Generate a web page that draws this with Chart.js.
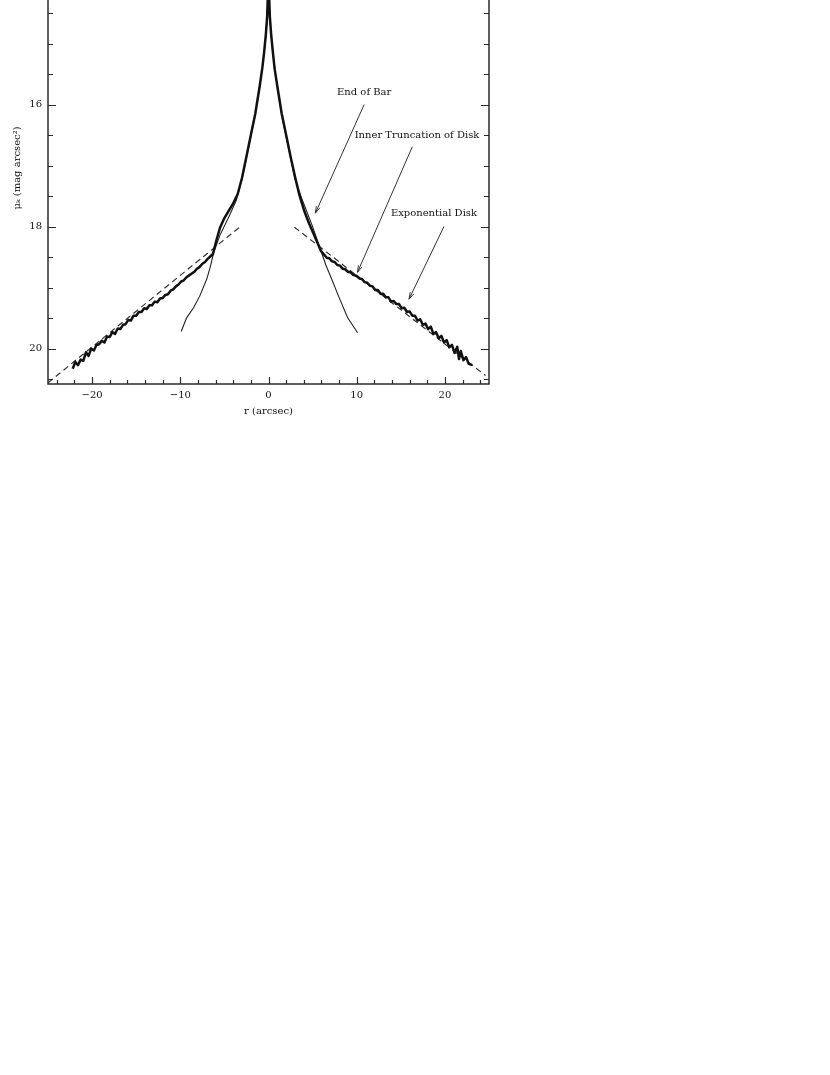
<!DOCTYPE html>
<html><head><meta charset="utf-8">
<script src="https://cdn.jsdelivr.net/npm/chart.js@4.4.0/dist/chart.umd.min.js"></script>
<style>
html,body{margin:0;padding:0;background:#fff;width:830px;height:1075px;overflow:hidden;}
#wrap{position:absolute;left:0;top:-60px;width:500px;height:490px;}
</style></head><body>
<div id="wrap"><canvas id="c"></canvas></div>
<script>
// Observed K-band surface-brightness profile [r (arcsec), mu_K (mag arcsec^-2)]
const profilePoints = [
 [-22.2,20.33],[-21.9,20.22],[-21.6,20.27],[-21.3,20.18],[-21.0,20.20],[-20.7,20.06],[-20.4,20.12],[-20.1,20.00],
 [-19.8,20.03],[-19.5,19.94],[-19.2,19.93],[-18.9,19.87],[-18.6,19.90],[-18.3,19.80],[-18.0,19.81],[-17.7,19.73],
 [-17.4,19.76],[-17.1,19.67],[-16.8,19.68],[-16.5,19.61],[-16.2,19.60],[-15.9,19.53],[-15.6,19.54],[-15.3,19.46],
 [-15.0,19.46],[-14.7,19.40],[-14.4,19.40],[-14.1,19.34],[-13.8,19.35],[-13.5,19.29],[-13.2,19.29],[-12.9,19.23],
 [-12.6,19.24],[-12.3,19.18],[-12.0,19.17],[-11.7,19.12],[-11.4,19.11],[-11.1,19.05],[-10.8,19.03],[-10.5,18.98],
 [-10.2,18.95],[-9.9,18.90],[-9.6,18.88],[-9.3,18.83],[-9.0,18.80],[-8.7,18.77],[-8.4,18.74],[-8.1,18.69],
 [-7.8,18.66],[-7.5,18.61],[-7.2,18.58],[-6.9,18.53],[-6.6,18.49],[-6.3,18.45],
 [-5.9,18.22],[-5.5,18.02],[-5.0,17.86],[-4.5,17.74],[-4.0,17.62],[-3.5,17.47],[-3.0,17.20],[-2.5,16.85],
 [-2.0,16.50],[-1.5,16.15],[-1.0,15.70],[-0.7,15.40],[-0.5,15.15],[-0.3,14.85],[-0.15,14.55],[0,13.90],
 [0.15,14.55],[0.3,14.85],[0.5,15.15],[0.7,15.42],[1.0,15.70],[1.5,16.15],[2.0,16.50],[2.5,16.85],
 [3.0,17.18],[3.5,17.48],[4.07,17.75],[4.6,17.95],[5.0,18.08],[5.5,18.25],[5.95,18.40],
 [6.3,18.46],[6.6,18.51],[6.9,18.52],[7.2,18.57],[7.5,18.58],[7.8,18.63],[8.1,18.64],[8.4,18.69],
 [8.7,18.70],[9.0,18.74],[9.3,18.75],[9.6,18.79],[10.0,18.81],[10.3,18.85],[10.6,18.86],[10.9,18.91],
 [11.2,18.92],[11.5,18.97],[11.8,18.98],[12.1,19.04],[12.4,19.04],[12.7,19.10],[13.0,19.10],[13.3,19.16],
 [13.6,19.16],[13.9,19.23],[14.2,19.22],[14.5,19.27],[14.8,19.27],[15.1,19.34],[15.4,19.33],[15.7,19.40],
 [16.0,19.39],[16.3,19.46],[16.6,19.46],[16.9,19.54],[17.2,19.52],[17.5,19.61],[17.8,19.59],[18.1,19.68],
 [18.4,19.64],[18.7,19.76],[19.0,19.73],[19.3,19.83],[19.6,19.79],[19.9,19.90],[20.2,19.86],[20.5,19.98],
 [20.8,19.94],[21.1,20.07],[21.4,19.97],[21.6,20.17],[21.8,20.04],[22.1,20.19],[22.4,20.14],[22.7,20.25],[23.1,20.27]
];
// Bulge (+bar) model profile
const bulgePoints = [
 [-9.9,19.72],[-9.3,19.50],[-8.5,19.33],[-7.8,19.14],[-7.0,18.86],[-6.6,18.66],[-6.2,18.42],[-5.5,18.14],
 [-4.4,17.81],[-3.65,17.57],[-3.0,17.22],[-2.5,16.87],[-2.0,16.52],[-1.5,16.17],[-1.0,15.72],[-0.5,15.17],
 [-0.3,14.87],[-0.15,14.57],[0,13.90],[0.15,14.57],[0.3,14.87],[0.5,15.17],[1.0,15.72],[1.5,16.17],
 [2.0,16.52],[2.5,16.87],[3.0,17.22],[3.9,17.59],[5.0,18.00],[5.95,18.40],[6.5,18.63],[7.1,18.84],
 [8.0,19.16],[8.96,19.49],[10.1,19.74]
];
// Exponential disk fits (dashed)
const diskLeftPoints  = [[-25,20.56],[-3.1,17.99]];
const diskRightPoints = [[2.94,18.01],[24.6,20.44]];

const xTickValues = [-20,-10,0,10,20];
const yTickValues = [14,16,18,20];

const annotationLabels = ['End of Bar','Inner Truncation of Disk','Exponential Disk'];
const annotationTextR  = [10.85, 16.84, 18.76];
const annotationTextMu = [15.80, 16.50, 17.78];
const arrowFromR  = [10.85, 16.31, 19.89];
const arrowFromMu = [16.00, 16.69, 18.00];
const arrowToR    = [5.31, 10.09, 15.93];
const arrowToMu   = [17.78, 18.75, 19.19];

const FONT = 'DejaVu Serif';
const toXY = pts => pts.map(p => ({x:p[0], y:p[1]}));

const framePlugin = {
  id:'frame',
  afterDatasetsDraw(chart){
    const {ctx, chartArea:a, scales:{x,y}} = chart;
    ctx.save();
    ctx.strokeStyle = '#2b2b2b';
    ctx.lineWidth = 1.5;
    ctx.beginPath();
    ctx.moveTo(a.left,a.top); ctx.lineTo(a.left,a.bottom); ctx.lineTo(a.right,a.bottom);
    ctx.lineTo(a.right,a.top); ctx.closePath(); ctx.stroke();
    ctx.lineWidth = 1.2;
    ctx.beginPath();
    for(let v=-24; v<=24; v+=2){
      const px = Math.round(x.getPixelForValue(v))+0.5;
      const L = (v%10===0)?7:4;
      ctx.moveTo(px,a.bottom); ctx.lineTo(px,a.bottom-L);
      ctx.moveTo(px,a.top); ctx.lineTo(px,a.top+L);
    }
    for(let v=14; v<=20.5; v+=0.5){
      const py = Math.round(y.getPixelForValue(v))+0.5;
      const L = (v%2===0)?8:5;
      ctx.moveTo(a.left,py); ctx.lineTo(a.left+L,py);
      ctx.moveTo(a.right,py); ctx.lineTo(a.right-L,py);
    }
    ctx.stroke();
    // annotations
    ctx.fillStyle = '#111';
    ctx.strokeStyle = '#333';
    ctx.lineWidth = 1;
    ctx.font = '10px "'+FONT+'"';
    ctx.textAlign = 'center';
    ctx.textBaseline = 'middle';
    for(let i=0;i<annotationLabels.length;i++){
      ctx.fillText(annotationLabels[i], x.getPixelForValue(annotationTextR[i]), y.getPixelForValue(annotationTextMu[i]));
      const x0 = x.getPixelForValue(arrowFromR[i]), y0 = y.getPixelForValue(arrowFromMu[i]);
      const x1 = x.getPixelForValue(arrowToR[i]),   y1 = y.getPixelForValue(arrowToMu[i]);
      ctx.beginPath(); ctx.moveTo(x0,y0); ctx.lineTo(x1,y1); ctx.stroke();
      const ang = Math.atan2(y1-y0, x1-x0), h = 7, w = 0.28;
      ctx.beginPath();
      ctx.moveTo(x1 - h*Math.cos(ang-w), y1 - h*Math.sin(ang-w));
      ctx.lineTo(x1,y1);
      ctx.lineTo(x1 - h*Math.cos(ang+w), y1 - h*Math.sin(ang+w));
      ctx.stroke();
    }
    ctx.restore();
  }
};

new Chart(document.getElementById('c'), {
  type:'line',
  data:{ datasets:[
    {label:'profile', data:toXY(profilePoints), borderColor:'#111', borderWidth:2.5, borderJoinStyle:'round', pointRadius:0, tension:0},
    {label:'bulge', data:toXY(bulgePoints), borderColor:'#222', borderWidth:1.1, pointRadius:0, tension:0},
    {label:'diskL', data:toXY(diskLeftPoints), borderColor:'#333', borderWidth:1.2, borderDash:[6,4], pointRadius:0},
    {label:'diskR', data:toXY(diskRightPoints), borderColor:'#333', borderWidth:1.2, borderDash:[6,4], pointRadius:0}
  ]},
  options:{
    responsive:true, maintainAspectRatio:false, animation:false,
    layout:{autoPadding:false, padding:{left:0,right:11,top:10,bottom:0}},
    plugins:{legend:{display:false}, tooltip:{enabled:false}},
    scales:{
      x:{type:'linear', min:-25, max:25,
        grid:{display:false, drawTicks:false, tickLength:0}, border:{display:false},
        afterBuildTicks:s=>{ s.ticks = xTickValues.map(v=>({value:v})); },
        afterFit:s=>{ s.height = 46; },
        ticks:{padding:5, maxRotation:0, color:'#111', font:{family:FONT,size:10},
          callback:v=> (v<0?'\u2212'+Math.abs(v):String(v))},
        title:{display:true, text:'r (arcsec)', color:'#111', font:{family:FONT,size:10}, padding:{top:0,bottom:13}}
      },
      y:{type:'linear', reverse:true, min:13.5, max:20.58,
        grid:{display:false, drawTicks:false, tickLength:0}, border:{display:false},
        afterBuildTicks:s=>{ s.ticks = yTickValues.map(v=>({value:v})); },
        afterFit:s=>{ s.width = 48; },
        ticks:{padding:6, color:'#111', font:{family:FONT,size:10}},
        title:{display:true, text:'\u03bc\u2096 (mag arcsec\u00b2)', color:'#111', font:{family:FONT,size:10}, padding:{top:11,bottom:0}}
      }
    }
  },
  plugins:[framePlugin]
});
</script>
</body></html>
